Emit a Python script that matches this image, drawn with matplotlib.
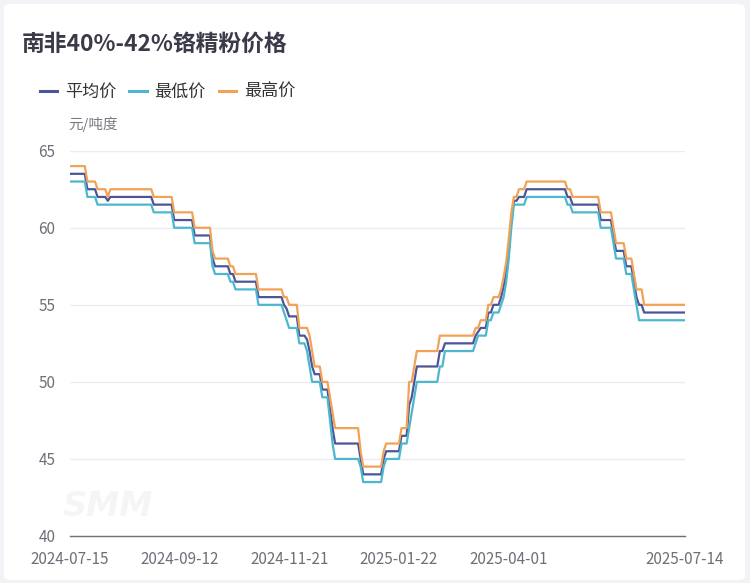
import numpy as np
import pandas as pd
import matplotlib
matplotlib.use("Agg")
import matplotlib.pyplot as plt
from matplotlib.patches import FancyBboxPatch
from matplotlib.lines import Line2D

plt.rcParams['font.family'] = ['Noto Sans CJK SC', 'DejaVu Sans']

title = "南非40%-42%铬精粉价格"
unit = "元/吨度"
series_names = ["平均价", "最低价", "最高价"]
colors = ["#4b5597", "#4db7cf", "#f2a257"]

start_date, end_date = "2024-07-15", "2025-07-14"
holidays = ["2024-09-16", "2024-09-17", "2024-10-01", "2024-10-02", "2024-10-03",
            "2024-10-04", "2024-10-07", "2025-01-01", "2025-01-28", "2025-01-29",
            "2025-01-30", "2025-01-31", "2025-02-03", "2025-02-04", "2025-04-04",
            "2025-05-01", "2025-05-02", "2025-05-05", "2025-06-02"]
tick_labels = ["2024-07-15", "2024-09-12", "2024-11-21", "2025-01-22", "2025-04-01", "2025-07-14"]
y_ticks = [40, 45, 50, 55, 60, 65]

# (trading-day number, price) at each price change
avg_changes = [(0, 63.5), (7, 62.5), (11, 62.0), (15, 61.75), (16, 62.0), (33, 61.5), (41, 60.5),
               (49, 59.5), (56, 58.0), (57, 57.5), (63, 57.0), (65, 56.5), (74, 55.5), (84, 55.0),
               (85, 54.75), (86, 54.25), (90, 53.0), (93, 52.75), (94, 52.0), (95, 51.0), (96, 50.5),
               (99, 49.5), (102, 48.25), (103, 47.0), (104, 46.0), (114, 45.0), (115, 44.0),
               (123, 45.0), (124, 45.5), (130, 46.5), (133, 48.5), (134, 49.0), (135, 50.0),
               (136, 51.0), (145, 52.0), (147, 52.5), (159, 53.0), (160, 53.25), (161, 53.5),
               (164, 54.5), (166, 55.0), (169, 55.5), (170, 56.2), (171, 57.2), (172, 58.7),
               (173, 60.5), (174, 61.75), (176, 62.0), (179, 62.5), (195, 62.0), (197, 61.5),
               (208, 60.5), (213, 59.5), (214, 58.5), (218, 57.5), (221, 56.5), (222, 55.5),
               (223, 55.0), (225, 54.5)]
low_changes = [(0, 63.0), (7, 62.0), (11, 61.5), (33, 61.0), (41, 60.0), (49, 59.0), (56, 57.5),
               (57, 57.0), (63, 56.5), (65, 56.0), (74, 55.0), (84, 54.5), (85, 54.0), (86, 53.5),
               (90, 52.5), (93, 52.0), (94, 51.0), (95, 50.0), (99, 49.0), (102, 47.5), (103, 46.0),
               (104, 45.0), (114, 44.5), (115, 43.5), (123, 44.5), (124, 45.0), (130, 46.0),
               (133, 47.0), (134, 48.0), (135, 49.0), (136, 50.0), (145, 51.0), (147, 52.0),
               (159, 52.5), (160, 53.0), (164, 54.0), (166, 54.5), (169, 55.0), (170, 55.5),
               (171, 56.5), (172, 58.0), (173, 60.0), (174, 61.5), (179, 62.0), (195, 61.5),
               (197, 61.0), (208, 60.0), (213, 59.0), (214, 58.0), (218, 57.0), (221, 56.0),
               (222, 55.0), (223, 54.0)]
high_changes = [(0, 64.0), (7, 63.0), (11, 62.5), (15, 62.0), (16, 62.5), (33, 62.0), (41, 61.0),
                (49, 60.0), (56, 58.5), (57, 58.0), (63, 57.5), (65, 57.0), (74, 56.0), (84, 55.5),
                (86, 55.0), (90, 53.5), (94, 53.0), (95, 52.0), (96, 51.0), (99, 50.0), (102, 49.0),
                (103, 48.0), (104, 47.0), (114, 45.5), (115, 44.5), (123, 45.5), (124, 46.0),
                (130, 47.0), (133, 50.0), (135, 51.0), (136, 52.0), (145, 53.0), (159, 53.5),
                (161, 54.0), (164, 55.0), (166, 55.5), (169, 56.0), (170, 56.8), (171, 57.8),
                (172, 59.3), (173, 61.0), (174, 62.0), (176, 62.5), (179, 63.0), (195, 62.5),
                (197, 62.0), (208, 61.0), (213, 60.0), (214, 59.0), (218, 58.0), (221, 57.0),
                (222, 56.0), (225, 55.0)]

# trading days (weekdays without Chinese public holidays)
days = pd.bdate_range(start_date, end_date)
days = days[~days.isin(pd.to_datetime(holidays))]
labels = days.strftime("%Y-%m-%d").tolist()
n = len(labels)


def daily(changes):
    s = pd.Series(np.nan, index=range(n))
    for i, v in changes:
        s.iloc[i] = v
    return s.ffill().values


series = [daily(avg_changes), daily(low_changes), daily(high_changes)]

W, H = 750, 583
fig = plt.figure(figsize=(W / 100, H / 100), dpi=100)
fig.patch.set_facecolor("#f2f3f7")
card = FancyBboxPatch((4 / W, 3 / H), 741 / W, 576 / H, boxstyle="round,pad=0,rounding_size=0.008",
                      transform=fig.transFigure, facecolor="white", edgecolor="none", zorder=-10)
fig.patches.append(card)

x0, x1, ytop, ybot = 69.5, 685, 150.7, 536
ax = fig.add_axes([x0 / W, 1 - ybot / H, (x1 - x0) / W, (ybot - ytop) / H])
ax.set_zorder(2)
ax.set_facecolor("none")

x = np.arange(n)
for vals, name, c in zip(series, series_names, colors):
    ax.plot(x, vals, color=c, lw=1.6, label=name, solid_joinstyle="round")

ax.set_xlim(0, n - 1)
ax.set_ylim(40, 65)
ax.set_yticks(y_ticks)
ax.set_yticklabels([str(v) for v in y_ticks])
ax.set_xticks([labels.index(t) for t in tick_labels])
ax.set_xticklabels(tick_labels)
ax.tick_params(axis="both", length=0, colors="#6e7079", labelsize=11)
ax.tick_params(axis="y", pad=10)
ax.tick_params(axis="x", pad=11)
for sp in ["top", "right", "left"]:
    ax.spines[sp].set_visible(False)
ax.spines["bottom"].set_color("#6e7079")
ax.spines["bottom"].set_linewidth(1.0)
ax.grid(axis="y", color="#ebebf3", lw=1.0)
ax.set_axisbelow(True)

# watermark
fig.text(108 / W, 1 - 506 / H, "SMM", fontsize=24, fontweight="bold", fontstyle="italic",
         color="#f5f5f7", ha="center", va="center", family="DejaVu Sans", zorder=1)

fig.text(22 / W, 1 - 44 / H, title, fontsize=16.4, fontweight="bold", color="#3a3a48",
         ha="left", va="center")
fig.text(68 / W, 1 - 124 / H, unit, fontsize=10.5, color="#7a7a82", ha="left", va="center")

handles = [Line2D([0], [0], color=c, lw=2.2) for c in colors]
fig.legend(handles, series_names, loc="center left", bbox_to_anchor=(40 / W, 1 - 92 / H),
           ncol=3, frameon=False, fontsize=12.3, handlelength=1.0, handletextpad=0.47,
           columnspacing=0.76, labelcolor="#333333", borderaxespad=0, borderpad=0)

fig.savefig("out.png", dpi=100, facecolor=fig.get_facecolor())
